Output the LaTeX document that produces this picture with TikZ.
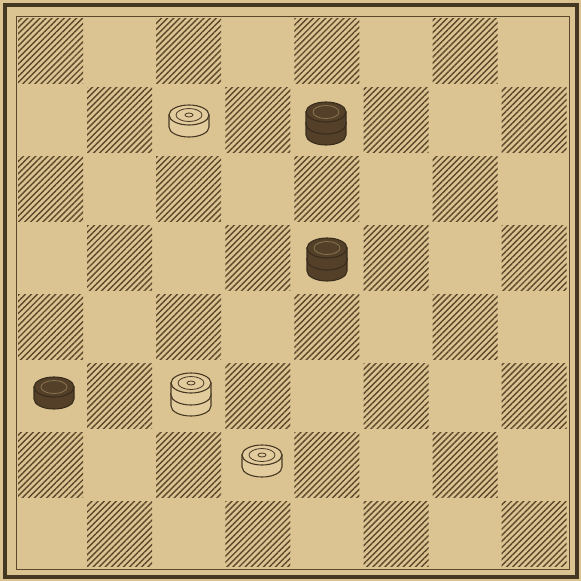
\documentclass[tikz,border=0pt]{standalone}
\usetikzlibrary{patterns.meta}
\definecolor{paper}{RGB}{220,196,146}
\definecolor{ink}{RGB}{92,72,44}
\definecolor{frameink}{RGB}{70,55,35}
\definecolor{darkman}{RGB}{84,64,40}
\definecolor{lightman}{RGB}{226,204,158}
\tikzset{
  disc/.pic={
    \path[pic actions] (-20,0) -- (-20,12) arc[start angle=180, end angle=0, x radius=20, y radius=10] -- (20,0) -- cycle;
    \path[pic actions] (0,0) ellipse (20 and 10);
  }
}
\begin{document}
\begin{tikzpicture}[x=1pt, y=-1pt,
    sq/.style={pattern={Lines[angle=45, distance=4.3pt, line width=1.4pt]}, pattern color=ink},
    whiteman/.style={fill=lightman, draw=frameink, line width=1.1pt},
    blackman/.style={fill=darkman, draw=frameink!80!black, line width=1.1pt},
    ring/.style={draw=frameink, line width=0.8pt}
]
    \fill[paper] (0,0) rectangle (581,581);

    % frame
    \draw[frameink, line width=4pt] (5,5) rectangle (577,577);
    \draw[ink, line width=1pt] (16,16) rectangle (569,569);

    % hatched squares
    \foreach \r in {0,...,7}
      \foreach \c in {0,...,7}{
        \pgfmathtruncatemacro\odd{mod(\r+\c,2)}
        \ifnum\odd=0
          \fill[sq] (16+69.1*\c+2, 16+69.1*\r+2) rectangle ++(65,65);
        \fi
      }

    % white men
    \pic[whiteman] (w1) at (189,115) {disc};
    \pic[whiteman] (w2) at (262,455) {disc};
    \pic[whiteman] (w3a) at (191,394) {disc};
    \pic[whiteman] (w3b) at (191,383) {disc};

    % black men
    \pic[blackman] (b1) at (54,387) {disc};
    \pic[blackman] (b2a) at (326,123) {disc};
    \pic[blackman] (b2b) at (326,112) {disc};
    \pic[blackman] (b3a) at (327,259) {disc};
    \pic[blackman] (b3b) at (327,248) {disc};

    % rings on the tops
    \foreach \p in {(189,115), (262,455), (191,383)}{
      \draw[ring] \p ellipse (13 and 6.5);
      \draw[ring] \p ellipse (4 and 2);
    }
    \foreach \p in {(54,387), (326,112), (327,248)}
      \draw[ring, draw=darkman!60!paper] \p ellipse (13 and 6.5);
\end{tikzpicture}
\end{document}
